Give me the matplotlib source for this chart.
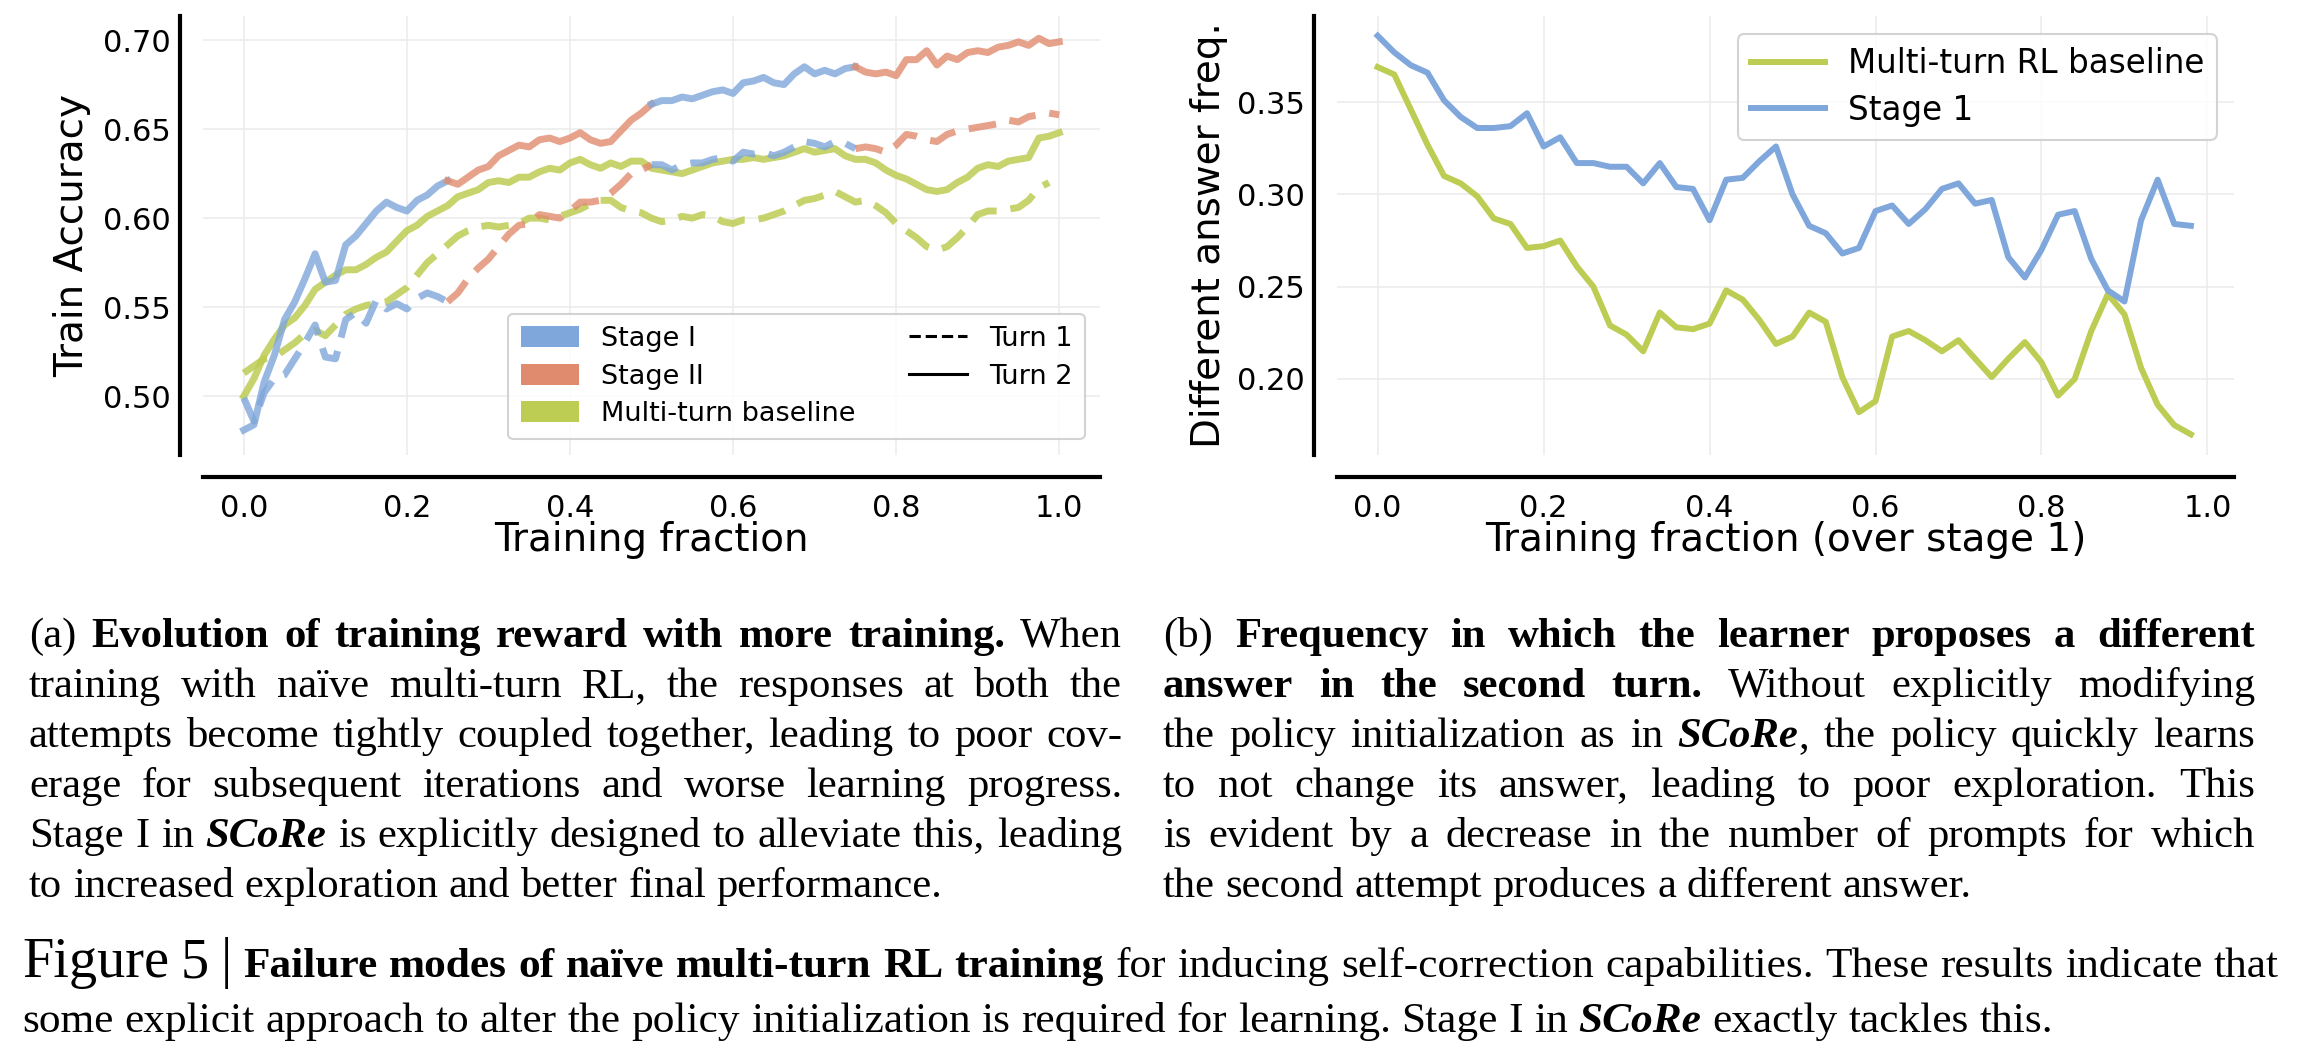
import numpy as np
import matplotlib
matplotlib.use("Agg")
import matplotlib.pyplot as plt
from matplotlib.patches import Patch
from matplotlib.lines import Line2D

W, H, DPI = 2298, 1050, 100

# ── data: (a) train accuracy vs training fraction ────────────────────────────
train_frac = np.linspace(0.0, 1.0, 81)
stage_edges = [0.0, 0.25, 0.5, 0.75, 1.0]
stage_names = ["Stage I", "Stage II", "Stage I", "Stage II"]

score_turn2 = [
    0.481, 0.484, 0.508, 0.523, 0.543, 0.553, 0.566, 0.580, 0.564, 0.565,
    0.585, 0.590, 0.597, 0.604, 0.609, 0.606, 0.604, 0.610, 0.613, 0.618,
    0.621, 0.619, 0.623, 0.627, 0.629, 0.635, 0.638, 0.641, 0.640, 0.644,
    0.645, 0.643, 0.645, 0.648, 0.644, 0.642, 0.643, 0.649, 0.655, 0.659,
    0.664, 0.666, 0.666, 0.668, 0.667, 0.669, 0.671, 0.672, 0.670, 0.676,
    0.677, 0.679, 0.676, 0.675, 0.681, 0.685, 0.681, 0.683, 0.681, 0.684,
    0.685, 0.682, 0.681, 0.682, 0.680, 0.689, 0.689, 0.694, 0.686, 0.691,
    0.689, 0.693, 0.694, 0.693, 0.696, 0.697, 0.699, 0.697, 0.701, 0.698,
    0.699]
score_turn1 = [
    0.499, 0.486, 0.502, 0.510, 0.512, 0.521, 0.530, 0.540, 0.522, 0.521,
    0.543, 0.547, 0.541, 0.554, 0.549, 0.552, 0.549, 0.555, 0.558, 0.556,
    0.553, 0.558, 0.566, 0.572, 0.577, 0.584, 0.591, 0.596, 0.597, 0.602,
    0.601, 0.600, 0.604, 0.609, 0.609, 0.610, 0.614, 0.619, 0.625, 0.627,
    0.630, 0.630, 0.627, 0.630, 0.631, 0.631, 0.633, 0.634, 0.632, 0.637,
    0.636, 0.637, 0.635, 0.637, 0.640, 0.643, 0.642, 0.640, 0.643, 0.642,
    0.639, 0.640, 0.639, 0.637, 0.641, 0.647, 0.646, 0.644, 0.643, 0.647,
    0.649, 0.650, 0.651, 0.652, 0.653, 0.655, 0.654, 0.657, 0.658, 0.659,
    0.658]
base_turn2 = [
    0.500, 0.510, 0.523, 0.532, 0.540, 0.544, 0.551, 0.560, 0.564, 0.568,
    0.571, 0.571, 0.574, 0.578, 0.581, 0.587, 0.593, 0.596, 0.601, 0.604,
    0.607, 0.612, 0.614, 0.616, 0.620, 0.621, 0.620, 0.623, 0.623, 0.626,
    0.628, 0.627, 0.631, 0.633, 0.630, 0.628, 0.631, 0.629, 0.632, 0.632,
    0.628, 0.627, 0.626, 0.625, 0.627, 0.629, 0.631, 0.632, 0.633, 0.633,
    0.634, 0.633, 0.634, 0.635, 0.637, 0.639, 0.637, 0.638, 0.639, 0.635,
    0.633, 0.633, 0.631, 0.627, 0.624, 0.622, 0.619, 0.616, 0.615, 0.616,
    0.620, 0.623, 0.628, 0.630, 0.629, 0.632, 0.633, 0.634, 0.645, 0.646,
    0.648]
base_turn1 = [
    0.513, 0.517, 0.521, 0.522, 0.526, 0.530, 0.535, 0.537, 0.534, 0.540,
    0.546, 0.549, 0.551, 0.552, 0.553, 0.557, 0.561, 0.568, 0.575, 0.580,
    0.585, 0.590, 0.593, 0.595, 0.596, 0.595, 0.596, 0.597, 0.600, 0.600,
    0.599, 0.601, 0.603, 0.605, 0.608, 0.610, 0.610, 0.606, 0.604, 0.603,
    0.600, 0.598, 0.599, 0.601, 0.600, 0.602, 0.601, 0.598, 0.597, 0.599,
    0.599, 0.600, 0.602, 0.604, 0.607, 0.610, 0.611, 0.613, 0.615, 0.612,
    0.609, 0.610, 0.607, 0.603, 0.597, 0.593, 0.589, 0.584, 0.582, 0.584,
    0.589, 0.595, 0.602, 0.604, 0.604, 0.605, 0.606, 0.610, 0.617, 0.620,
    np.nan]

# ── data: (b) different answer frequency ─────────────────────────────────────
diff_frac = np.linspace(0.0, 0.98, 50)
diff_baseline = [
    0.369, 0.365, 0.346, 0.327, 0.310, 0.306, 0.299, 0.287, 0.284, 0.271,
    0.272, 0.275, 0.261, 0.250, 0.229, 0.224, 0.215, 0.236, 0.228, 0.227,
    0.230, 0.248, 0.243, 0.232, 0.219, 0.223, 0.236, 0.231, 0.201, 0.182,
    0.188, 0.223, 0.226, 0.221, 0.215, 0.221, 0.211, 0.201, 0.211, 0.220,
    0.209, 0.191, 0.200, 0.226, 0.246, 0.235, 0.206, 0.186, 0.175, 0.170]
diff_stage1 = [
    0.386, 0.377, 0.370, 0.366, 0.351, 0.342, 0.336, 0.336, 0.337, 0.344,
    0.326, 0.331, 0.317, 0.317, 0.315, 0.315, 0.306, 0.317, 0.304, 0.303,
    0.286, 0.308, 0.309, 0.318, 0.326, 0.300, 0.283, 0.279, 0.268, 0.271,
    0.291, 0.294, 0.284, 0.292, 0.303, 0.306, 0.295, 0.297, 0.266, 0.255,
    0.270, 0.289, 0.291, 0.265, 0.248, 0.242, 0.286, 0.308, 0.284, 0.283]

# ── colours ──────────────────────────────────────────────────────────────────
C_BLUE   = "#7FA7DB"
C_ORANGE = "#E08B6D"
C_GREEN  = "#BDCC52"
STAGE_COLORS = {"Stage I": C_BLUE, "Stage II": C_ORANGE}

DASH = (0, (4.0, 2.0))
LW = 5.0

fig = plt.figure(figsize=(W / DPI, H / DPI), dpi=DPI)
fig.patch.set_facecolor("white")


def px_axes(x0, y_top, x1, y_bot):
    return fig.add_axes([x0 / W, 1 - y_bot / H, (x1 - x0) / W, (y_bot - y_top) / H])


def style_axes(ax):
    for s in ("top", "right"):
        ax.spines[s].set_visible(False)
    ax.spines["left"].set_position(("outward", 16.5))
    ax.spines["bottom"].set_position(("outward", 16))
    for s in ("left", "bottom"):
        ax.spines[s].set_linewidth(3)
    ax.tick_params(axis="both", length=0, labelsize=22)
    ax.tick_params(axis="y", pad=6.5)
    ax.tick_params(axis="x", pad=12)
    ax.grid(True, color="#ececec", linewidth=1.2)
    ax.set_axisbelow(True)


# ── panel (a) ────────────────────────────────────────────────────────────────
ax1 = px_axes(203, 16, 1100, 455)
style_axes(ax1)
x = train_frac
ax1.plot(x, base_turn1, color=C_GREEN, lw=LW, ls=DASH, alpha=0.85, zorder=2)
ax1.plot(x, base_turn2, color=C_GREEN, lw=LW, alpha=0.85, zorder=2)
t1 = np.array(score_turn1)
t2 = np.array(score_turn2)
for lo, hi, name in zip(stage_edges[:-1], stage_edges[1:], stage_names):
    m = (x >= lo - 1e-9) & (x <= hi + 1e-9)
    c = STAGE_COLORS[name]
    ax1.plot(x[m], t1[m], color=c, lw=LW, ls=DASH, alpha=0.8, zorder=3)
    ax1.plot(x[m], t2[m], color=c, lw=LW, alpha=0.8, zorder=3)

ax1.set_xlim(-0.05, 1.05)
ax1.set_ylim(0.467, 0.7135)
ax1.set_xticks(np.arange(0, 1.01, 0.2))
ax1.set_yticks([0.50, 0.55, 0.60, 0.65, 0.70])
ax1.xaxis.set_major_formatter(matplotlib.ticker.FormatStrFormatter("%.1f"))
ax1.yaxis.set_major_formatter(matplotlib.ticker.FormatStrFormatter("%.2f"))
ax1.set_xlabel("Training fraction", fontsize=28)
ax1.set_ylabel("Train Accuracy", fontsize=28)
ax1.xaxis.set_label_coords(0.5, -0.15)
ax1.yaxis.set_label_coords(-0.125, 0.5)

handles = [
    Patch(facecolor=C_BLUE, label="Stage I"),
    Patch(facecolor=C_ORANGE, label="Stage II"),
    Patch(facecolor=C_GREEN, label="Multi-turn baseline"),
    Line2D([], [], color="black", lw=2.2, ls="--", label="Turn 1"),
    Line2D([], [], color="black", lw=2.2, label="Turn 2"),
    Line2D([], [], color="none", label=" "),
]
leg = ax1.legend(handles=handles, ncol=2, loc="lower right",
                 bbox_to_anchor=(0.983, 0.036), borderaxespad=0,
                 fontsize=19.5, handlelength=2.15, handleheight=0.8,
                 handletextpad=0.8, columnspacing=2.0, labelspacing=0.42,
                 borderpad=0.45, framealpha=0.85, edgecolor="#cccccc",
                 fancybox=True)
leg.get_frame().set_linewidth(1.5)

# ── panel (b) ────────────────────────────────────────────────────────────────
ax2 = px_axes(1337, 16, 2234, 455)
style_axes(ax2)
ax2.plot(diff_frac, diff_baseline, color=C_GREEN, lw=4.3,
         label="Multi-turn RL baseline", zorder=3)
ax2.plot(diff_frac, diff_stage1, color=C_BLUE, lw=4.3, label="Stage 1", zorder=3)
ax2.set_xlim(-0.049, 1.032)
ax2.set_ylim(0.1588, 0.3967)
ax2.set_xticks(np.arange(0, 1.01, 0.2))
ax2.set_yticks([0.20, 0.25, 0.30, 0.35])
ax2.xaxis.set_major_formatter(matplotlib.ticker.FormatStrFormatter("%.1f"))
ax2.yaxis.set_major_formatter(matplotlib.ticker.FormatStrFormatter("%.2f"))
ax2.set_xlabel("Training fraction (over stage 1)", fontsize=28)
ax2.set_ylabel("Different answer freq.", fontsize=28)
ax2.xaxis.set_label_coords(0.5, -0.15)
ax2.yaxis.set_label_coords(-0.1215, 0.5)
leg2 = ax2.legend(loc="upper right", bbox_to_anchor=(0.981, 0.959),
                  borderaxespad=0, fontsize=23.5, handlelength=2.26,
                  handletextpad=0.7, labelspacing=0.42, borderpad=0.4,
                  framealpha=0.85, edgecolor="#cccccc", fancybox=True)
leg2.get_frame().set_linewidth(1.5)

# ── captions (justified serif text) ─────────────────────────────────────────
SERIF = "Liberation Serif"
FONT = {
    "r":   dict(family=SERIF),
    "b":   dict(family=SERIF, fontweight="bold"),
    "bi":  dict(family=SERIF, fontweight="bold", fontstyle="italic"),
    "big": dict(family=SERIF),
}
SCALE = {"r": 1.0, "b": 1.0, "bi": 1.0, "big": 1.3}
SPACE_EM = 0.25

CAP_A = [
    [("(a) ", "r"), ("Evolution of training reward with more training.", "b"), (" When", "r")],
    [("training with naïve multi-turn RL, the responses at both the", "r")],
    [("attempts become tightly coupled together, leading to poor cov-", "r")],
    [("erage for subsequent iterations and worse learning progress.", "r")],
    [("Stage I in ", "r"), ("SCoRe", "bi"), (" is explicitly designed to alleviate this, leading", "r")],
    [("to increased exploration and better final performance.", "r")],
]
CAP_B = [
    [("(b) ", "r"), ("Frequency in which the learner proposes a different", "b")],
    [("answer in the second turn.", "b"), (" Without explicitly modifying", "r")],
    [("the policy initialization as in ", "r"), ("SCoRe", "bi"), (", the policy quickly learns", "r")],
    [("to not change its answer, leading to poor exploration. This", "r")],
    [("is evident by a decrease in the number of prompts for which", "r")],
    [("the second attempt produces a different answer.", "r")],
]
CAP_FIG = [
    [("Figure 5 | ", "big"), ("Failure modes of naïve multi-turn RL training", "b"),
     (" for inducing self-correction capabilities. These results indicate that", "r")],
    [("some explicit approach to alter the policy initialization is required for learning. Stage I in ", "r"),
     ("SCoRe", "bi"), (" exactly tackles this.", "r")],
]

renderer = fig.canvas.get_renderer()


def split_words(line):
    words = [[]]
    for text, st in line:
        for k, part in enumerate(text.split(" ")):
            if k > 0:
                words.append([])
            if part:
                words[-1].append((part, st))
    return [w for w in words if w]


def text_w(s, st, size):
    t = fig.text(0, 0, s, fontsize=size * SCALE[st], **FONT[st])
    w = t.get_window_extent(renderer=renderer).width
    t.remove()
    return w


def fit_size(paragraphs, width, ref=20.0):
    worst = 0
    for lines in paragraphs:
        for line in lines[:-1]:
            words = split_words(line)
            nat = sum(text_w(p, st, ref) for w in words for p, st in w)
            nat += (len(words) - 1) * SPACE_EM * ref * DPI / 72
            worst = max(worst, nat)
    return ref * width / worst * 0.995


def place_paragraph(lines, x0, x1, baselines, size):
    for k, (line, yb) in enumerate(zip(lines, baselines)):
        words = split_words(line)
        widths = [[text_w(p, st, size) for p, st in w] for w in words]
        total = sum(sum(ws) for ws in widths)
        if k == len(lines) - 1:
            gap = SPACE_EM * size * DPI / 72
        else:
            gap = (x1 - x0 - total) / (len(words) - 1)
        xc = x0
        for w, ws in zip(words, widths):
            for (p, st), pw in zip(w, ws):
                fig.text(xc / W, 1 - yb / H, p, fontsize=size * SCALE[st],
                         va="baseline", ha="left", color="black", **FONT[st])
                xc += pw
            xc += gap


sub_size = min(fit_size([CAP_A], 1122 - 29), fit_size([CAP_B], 2255 - 1163))
sub_base = [647, 697, 747, 797, 847, 897]
place_paragraph(CAP_A, 29, 1122, sub_base, sub_size)
place_paragraph(CAP_B, 1163, 2255, sub_base, sub_size)

fig_size = fit_size([CAP_FIG], 2279 - 22)
place_paragraph(CAP_FIG, 22, 2279, [977, 1032], fig_size)

fig.savefig("out.png", dpi=DPI)
